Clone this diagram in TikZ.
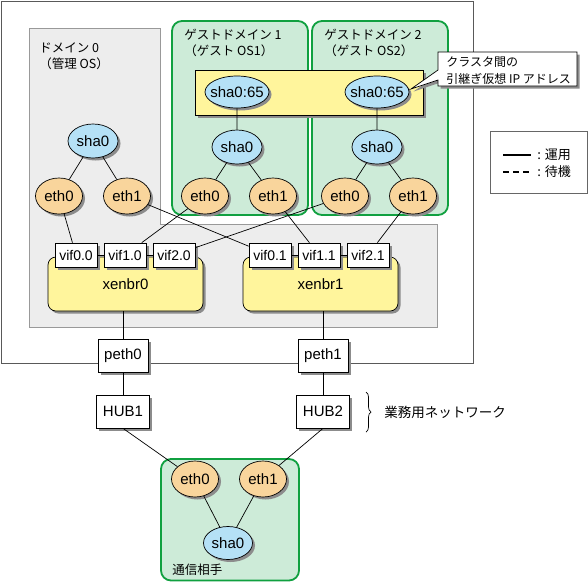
\documentclass[tikz,border=0pt]{standalone}
\usepackage{fontspec}
\setmainfont{Liberation Sans}
\newfontfamily\jp{Noto Sans CJK JP}
\usetikzlibrary{shapes.geometric, shadows, decorations.pathreplacing}
\definecolor{shablue}{HTML}{B5E1F6}
\definecolor{ethorange}{HTML}{F9D59C}
\definecolor{domgreen}{HTML}{CDEBD8}
\definecolor{domedge}{HTML}{10A040}
\definecolor{bryellow}{HTML}{FFF59C}
\definecolor{dzerogrey}{HTML}{EDEDED}

\begin{document}
\begin{tikzpicture}[x=1pt, y=-1pt, line width=0.7pt]
  \tikzset{shd/.style={drop shadow={shadow xshift=2.5pt, shadow yshift=-2.5pt, fill=black!45, opacity=1}},
    nd/.style={draw, shd, inner xsep=-10pt, inner ysep=-3pt, font=\fontsize{15}{15}\selectfont},
    sha/.style={nd, ellipse, fill=shablue, minimum width=50pt, minimum height=34pt},
    eth/.style={nd, ellipse, fill=ethorange, minimum width=47pt, minimum height=36pt},
    bx/.style={draw, fill=white, shd, inner sep=0pt, minimum height=33pt, font=\fontsize{15}{15}\selectfont},
    vif/.style={bx, minimum width=42pt, minimum height=24pt, font=\fontsize{14}{14}\selectfont},
    br/.style={bx, fill=bryellow, rounded corners=8pt, minimum width=155pt, minimum height=54pt},
    dom/.style={draw=domedge, fill=domgreen, line width=1.8pt, rounded corners=10pt},
    lbl/.style={font=\jp\fontsize{12.5}{16}\selectfont, align=left, inner sep=0pt}}
  \useasboundingbox (0,0) rectangle (588,582);

  % host and domain 0
  \draw[black!65, line width=1pt] (1.5,1.5) rectangle (473,363);
  \draw[fill=dzerogrey, draw=black!40] (29,28) -- (160,28) -- (160,224) -- (437,224) -- (437,327) -- (29,327) -- cycle;
  \node[lbl, anchor=north west] (d0) at (39,42) {ドメイン 0\\（管理 OS）};
  \node[sha] (s0) at (93,141) {sha0};
  \node[eth] (e00) at (59,196) {eth0};
  \node[eth] (e01) at (127,196) {eth1};
  \draw (s0) -- (e00) (s0) -- (e01);

  % guest domains
  \foreach \g/\x in {1/237, 2/377} {
    \draw[dom] (\x-65,21) rectangle (\x+71,215);
  }
  \draw[fill=bryellow, shd] (195,70) rectangle (423,115);
  \foreach \g/\x in {1/237, 2/377} {
    \node[lbl, anchor=north west] (gl\g) at (\x-53,29) {ゲストドメイン \g\\（ゲスト OS\g）};
    \node[sha, minimum width=64pt, minimum height=32pt] (ip\g) at (\x,92) {sha0:65};
    \node[sha] (s\g) at (\x,147) {sha0};
    \node[eth] (e\g0) at (\x-32,196) {eth0};
    \node[eth] (e\g1) at (\x+36,196) {eth1};
    \draw (ip\g) -- (s\g) (s\g) -- (e\g0) (s\g) -- (e\g1);
  }

  % callout and legend
  \draw[fill=white, shd] (438,52) -- (577,52) -- (577,86) -- (438,86) -- (438,80) -- (411,89) -- (438,70) -- cycle;
  \node[lbl, anchor=north west, font=\jp\fontsize{12}{17}\selectfont] (tip) at (446,56) {クラスタ間の\\引継ぎ仮想 IP アドレス};
  \draw[draw=black!60] (490,131) rectangle (587,193);
  \draw[line width=1.4pt] (503,155) -- (531,155);
  \draw[line width=1.4pt, dash pattern=on 6pt off 4pt] (503,172) -- (531,172);
  \node[lbl, anchor=west, font=\jp\fontsize{13}{13}\selectfont] (run) at (537,155) {: 運用};
  \node[lbl, anchor=west, font=\jp\fontsize{13}{13}\selectfont] (stby) at (537,172) {: 待機};

  % bridges
  \node[br] (x0) at (125.5,284) {xenbr0};
  \node[br] (x1) at (320.5,284) {xenbr1};
  \foreach \i/\x in {0/76, 1/125, 2/174} {
    \node[vif] (vif\i0) at (\x,255) {vif\i.0};
    \node[vif] (vif\i1) at (\x+194,255) {vif\i.1};
  }
  \draw (vif00) -- (vif10) -- (vif20) (vif01) -- (vif11) -- (vif21);
  \foreach \i in {0,1,2} \draw (e\i0) -- (vif\i0) (e\i1) -- (vif\i1);

  % physical side
  \foreach \i/\j/\x in {0/1/123, 1/2/323} {
    \node[bx, minimum width=50pt] (p\i) at (\x,355.5) {peth\i};
    \node[bx, minimum width=53pt] (h\i) at (\x,411.5) {HUB\j};
    \draw (x\i.south -| p\i) -- (p\i) (p\i) -- (h\i);
  }
  \draw[decorate, decoration={brace, amplitude=5pt}] (366,392) -- (366,432);
  \node[lbl, anchor=west, font=\jp\fontsize{13.5}{13.5}\selectfont] (net) at (384,412) {業務用ネットワーク};

  % peer
  \draw[dom] (161,459) rectangle (299,580.5);
  \node[eth] (c0) at (195,479) {eth0};
  \node[eth] (c1) at (263,479) {eth1};
  \node[sha, minimum width=49pt, minimum height=33pt] (c2) at (228,543) {sha0};
  \node[lbl, anchor=west] (peer) at (172,570) {通信相手};
  \draw (h0.south) -- (c0) (h1.south) -- (c1) (c0) -- (c2) (c1) -- (c2);
\end{tikzpicture}
\end{document}
